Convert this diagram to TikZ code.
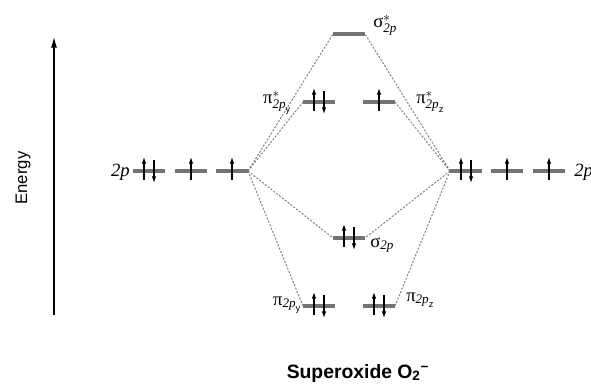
\documentclass[tikz,border=0pt]{standalone}
\usepackage{amsmath}
\usepackage{fontspec}
\setmainfont{Liberation Serif}
\setsansfont{Liberation Sans}
\usetikzlibrary{arrows.meta,calc}
\definecolor{bargray}{RGB}{115,115,115}
\definecolor{linkgray}{RGB}{120,120,120}
\tikzset{
  orbital/.style={bargray, line width=2.6pt},
  link/.style={linkgray, line width=0.7pt, dash pattern=on 1.5pt off 1.2pt},
  spin/.style={-{Latex[length=5pt,width=3.4pt]}, line width=0.8pt},
  lab/.style={font=\fontsize{14}{16}\selectfont, inner sep=0pt},
  axis/.style={-{Latex[length=8pt,width=4.5pt]}, line width=0.8pt},
}
% one orbital bar: name, centre x, centre y
\newcommand{\orb}[3]{%
  \coordinate (#1) at (#2,#3);
  \coordinate (#1-w) at (#2-16,#3);
  \coordinate (#1-e) at (#2+16,#3);
  \draw[orbital] (#1-w) -- (#1-e);}
\newcommand{\spinup}[1]{\draw[spin] ($(#1)+(0,9)$) -- ($(#1)+(0,-14)$);}
\newcommand{\spinpair}[1]{%
  \draw[spin] ($(#1)+(-5,9)$) -- ($(#1)+(-5,-14)$);
  \draw[spin] ($(#1)+(5,-11)$) -- ($(#1)+(5,12)$);}

\begin{document}
\begin{tikzpicture}[x=0.75pt,y=-0.75pt]
  \path[use as bounding box] (0,0) rectangle (591,388);

  % energy axis
  \coordinate (Ebot) at (54,315);
  \coordinate (Etop) at (54,37);
  \draw[axis] (Ebot) -- (Etop);
  \node[font=\sffamily\fontsize{12.5}{14}\selectfont, rotate=90] (elab) at (23,178) {Energy};

  % atomic levels
  \orb{L1}{149}{171} \orb{L2}{191}{171} \orb{L3}{232}{171}
  \orb{R1}{466}{171} \orb{R2}{507}{171} \orb{R3}{549}{171}

  % molecular levels
  \orb{sigS}{349}{34}
  \orb{piSy}{319}{102} \orb{piSz}{379}{102}
  \orb{sig}{349}{238}
  \orb{piy}{319}{306} \orb{piz}{379}{306}

  % correlation lines
  \foreach \m/\s in {piSy/w,sigS/w,sig/w,piy/w}
    \draw[link] (L3-e) -- (\m-\s);
  \foreach \m/\s in {piSz/e,sigS/e,sig/e,piz/e}
    \draw[link] (R1-w) -- (\m-\s);

  % electrons
  \spinpair{L1} \spinup{L2} \spinup{L3}
  \spinpair{R1} \spinup{R2} \spinup{R3}
  \spinpair{piSy} \spinup{piSz}
  \spinpair{sig}
  \spinpair{piy} \spinpair{piz}

  % labels
  \node[lab, anchor=base east] (l2p) at (130,176) {\itshape 2p};
  \node[lab, anchor=base west] (r2p) at (574,176) {\itshape 2p};
  \node[lab, anchor=base west] (lsigS) at (373,28)
    {$\text{σ}^{*}_{\text{\itshape 2p}}$};
  \node[lab, anchor=base east] (lpiSy) at (292,104)
    {$\text{π}^{*}_{\text{\itshape 2p}_{\text{\sffamily y}}}$};
  \node[lab, anchor=base west] (lpiSz) at (416,104)
    {$\text{π}^{*}_{\text{\itshape 2p}_{\text{\sffamily z}}}$};
  \node[lab, anchor=base west] (lsig) at (370,247)
    {$\text{σ}_{\text{\itshape 2p}}$};
  \node[lab, anchor=base east] (lpiy) at (302,305)
    {$\text{π}_{\text{\itshape 2p}_{\text{\sffamily y}}}$};
  \node[lab, anchor=base west] (lpiz) at (406,301)
    {$\text{π}_{\text{\itshape 2p}_{\text{\sffamily z}}}$};

  \node[font=\sffamily\bfseries\fontsize{14.5}{16}\selectfont, anchor=base] (title) at (358,378)
    {Superoxide O\textsubscript{2}\textsuperscript{−}};
\end{tikzpicture}
\end{document}
